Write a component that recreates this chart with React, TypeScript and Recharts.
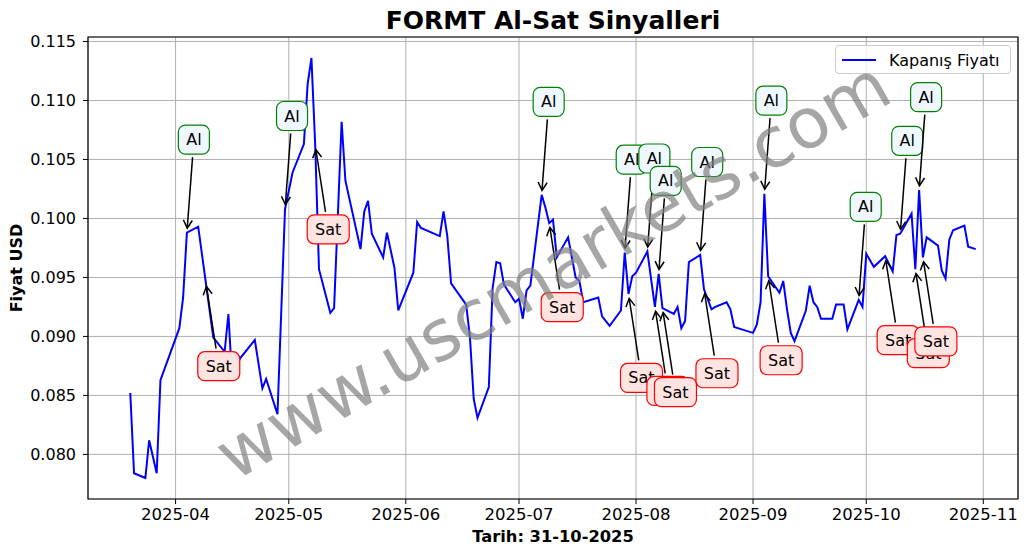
import { ComposedChart, Line, Scatter, XAxis, YAxis, CartesianGrid, ReferenceArea } from 'recharts'

// trading days and closing prices (USD)
const dates = [
  '2025-03-20', '2025-03-21', '2025-03-24', '2025-03-25', '2025-03-27', '2025-03-28',
  '2025-04-02', '2025-04-03', '2025-04-04', '2025-04-07', '2025-04-09', '2025-04-11',
  '2025-04-14', '2025-04-15', '2025-04-16', '2025-04-18', '2025-04-22', '2025-04-24',
  '2025-04-25', '2025-04-28', '2025-04-30',
  '2025-05-02', '2025-05-05', '2025-05-06', '2025-05-07', '2025-05-08', '2025-05-09',
  '2025-05-12', '2025-05-13', '2025-05-15', '2025-05-16', '2025-05-20', '2025-05-21',
  '2025-05-22', '2025-05-23', '2025-05-26', '2025-05-27', '2025-05-29', '2025-05-30',
  '2025-06-03', '2025-06-04', '2025-06-05', '2025-06-10', '2025-06-11', '2025-06-12',
  '2025-06-13', '2025-06-17', '2025-06-18', '2025-06-19', '2025-06-20', '2025-06-23',
  '2025-06-24', '2025-06-25', '2025-06-26', '2025-06-27', '2025-06-30',
  '2025-07-01', '2025-07-02', '2025-07-03', '2025-07-04', '2025-07-07', '2025-07-08',
  '2025-07-09', '2025-07-10', '2025-07-11', '2025-07-14', '2025-07-16', '2025-07-17',
  '2025-07-18', '2025-07-21', '2025-07-22', '2025-07-23', '2025-07-25', '2025-07-28',
  '2025-07-29', '2025-07-30', '2025-07-31',
  '2025-08-01', '2025-08-04', '2025-08-06', '2025-08-07', '2025-08-08', '2025-08-11',
  '2025-08-12', '2025-08-13', '2025-08-14', '2025-08-15', '2025-08-18', '2025-08-19',
  '2025-08-21', '2025-08-22', '2025-08-25', '2025-08-26', '2025-08-27', '2025-08-29',
  '2025-09-01', '2025-09-02', '2025-09-03', '2025-09-04', '2025-09-05', '2025-09-08',
  '2025-09-09', '2025-09-10', '2025-09-11', '2025-09-12', '2025-09-15', '2025-09-16',
  '2025-09-17', '2025-09-18', '2025-09-19', '2025-09-22', '2025-09-23', '2025-09-25',
  '2025-09-26', '2025-09-29', '2025-09-30',
  '2025-10-01', '2025-10-03', '2025-10-06', '2025-10-08', '2025-10-09', '2025-10-10',
  '2025-10-13', '2025-10-14', '2025-10-15', '2025-10-16', '2025-10-17', '2025-10-20',
  '2025-10-21', '2025-10-22', '2025-10-23', '2025-10-24', '2025-10-27', '2025-10-28',
  '2025-10-30',
]

const closes = [
  0.0852, 0.0784, 0.0780, 0.0812, 0.0784, 0.0863,
  0.0907, 0.0933, 0.0988, 0.0993, 0.0946, 0.0899,
  0.0887, 0.0919, 0.0863, 0.0881, 0.0897, 0.0856,
  0.0864, 0.0834, 0.1008,
  0.1039, 0.1063, 0.1114, 0.1136, 0.1062, 0.0957,
  0.0920, 0.0924, 0.1082, 0.1032, 0.0974, 0.1006,
  0.1015, 0.0987, 0.0967, 0.0988, 0.0958, 0.0922,
  0.0954, 0.0997, 0.0992, 0.0985, 0.1006, 0.0985,
  0.0945, 0.0927, 0.0899, 0.0847, 0.0831, 0.0857,
  0.0941, 0.0963, 0.0962, 0.0944, 0.0929,
  0.0932, 0.0915, 0.0939, 0.0943, 0.1020, 0.1009,
  0.0996, 0.0999, 0.0967, 0.0984, 0.0950, 0.0947,
  0.0929, 0.0932, 0.0933, 0.0917, 0.0909, 0.0922,
  0.0971, 0.0936, 0.0951,
  0.0954, 0.0972, 0.0925, 0.0953, 0.0924, 0.0919,
  0.0925, 0.0907, 0.0913, 0.0963, 0.0969, 0.0940,
  0.0923, 0.0925, 0.0929, 0.0923, 0.0908, 0.0906,
  0.0903, 0.0910, 0.0929, 0.1021, 0.0951, 0.0937,
  0.0947, 0.0923, 0.0903, 0.0896, 0.0922, 0.0943,
  0.0929, 0.0925, 0.0915, 0.0915, 0.0927, 0.0927,
  0.0906, 0.0931, 0.0925,
  0.0970, 0.0959, 0.0968, 0.0955, 0.0986, 0.0987,
  0.1004, 0.0957, 0.1024, 0.0967, 0.0984, 0.0977,
  0.0956, 0.0949, 0.0982, 0.0990, 0.0994, 0.0976,
  0.0974,
]

const buyDates = [
  '2025-04-04', '2025-04-30', '2025-07-07', '2025-07-29', '2025-08-04', '2025-08-07',
  '2025-08-18', '2025-09-04', '2025-09-29', '2025-10-10', '2025-10-15',
]
const sellDates = [
  '2025-04-09', '2025-05-08', '2025-07-09', '2025-07-30', '2025-08-06', '2025-08-08',
  '2025-08-19', '2025-09-05', '2025-10-06', '2025-10-14', '2025-10-16',
]

const monthTicks = [
  '2025-04-01', '2025-05-01', '2025-06-01', '2025-07-01',
  '2025-08-01', '2025-09-01', '2025-10-01', '2025-11-01',
]
const priceTicks = [0.08, 0.085, 0.09, 0.095, 0.1, 0.105, 0.11, 0.115]

const toTime = (d: string) => Date.parse(d + 'T00:00:00Z')
const closeAt = (d: string) => closes[dates.indexOf(d)]

const rows = dates.map((d, i) => ({ t: toTime(d), close: closes[i] }))
const buyRows = buyDates.map((d) => ({ t: toTime(d), close: closeAt(d) }))
const sellRows = sellDates.map((d) => ({ t: toTime(d), close: closeAt(d) }))

// matplotlib-style 5% margins
const tMin = rows[0].t
const tMax = rows[rows.length - 1].t
const xPad = (tMax - tMin) * 0.05
const xDomain: [number, number] = [tMin - xPad, tMax + xPad]
const vMin = Math.min(...closes)
const vMax = Math.max(...closes)
const yPad = (vMax - vMin) * 0.05
const yDomain: [number, number] = [vMin - yPad, vMax + yPad]

const FONT = '"DejaVu Sans", Verdana, sans-serif'

function SignalMark({ cx, cy, label }: { cx?: number; cy?: number; label: 'Al' | 'Sat' }) {
  if (cx == null || cy == null) return null
  const buy = label === 'Al'
  const w = buy ? 31 : 42
  const h = 29
  const bx = cx + (buy ? 7 : 13)
  const by = cy + (buy ? -93 : 84)
  const dir = buy ? 1 : -1
  const ty = by + dir * (h / 2 + 3)
  const tx = bx + (cx - bx) * ((ty - by) / (cy - by))
  const len = Math.hypot(cx - tx, cy - ty)
  const ux = (cx - tx) / len
  const uy = (cy - ty) / len
  const px = cx - ux * 4.5
  const py = cy - uy * 4.5
  const hl = 8
  const hw = 4.5
  const p1 = `${px - ux * hl - uy * hw},${py - uy * hl + ux * hw}`
  const p2 = `${px - ux * hl + uy * hw},${py - uy * hl - ux * hw}`
  return (
    <g>
      <line x1={tx} y1={ty} x2={px} y2={py} stroke="#000" strokeWidth={1.5} />
      <polyline points={`${p1} ${px},${py} ${p2}`} fill="none" stroke="#000" strokeWidth={1.5} />
      <rect
        x={bx - w / 2}
        y={by - h / 2}
        width={w}
        height={h}
        rx={7}
        fill={buy ? '#f0f8ff' : '#ffe4e1'}
        stroke={buy ? '#008000' : '#ff0000'}
        strokeWidth={1.2}
      />
      <text x={bx} y={by} textAnchor="middle" dominantBaseline="central" fontSize={16} fill="#000" fontFamily={FONT}>
        {label}
      </text>
    </g>
  )
}

export default function App() {
  return (
    <div style={{ position: 'absolute', left: 0, top: 0, width: 1028, height: 554, background: '#fff', fontFamily: FONT }}>
      <ComposedChart width={1028} height={554} data={rows} margin={{ top: 37, right: 10, bottom: 11, left: 8 }}>
        <CartesianGrid stroke="#b0b0b0" strokeWidth={1} />
        <XAxis
          dataKey="t"
          type="number"
          domain={xDomain}
          ticks={monthTicks.map(toTime)}
          tickFormatter={(v: number) => new Date(v).toISOString().slice(0, 7)}
          height={44}
          tickSize={5}
          tickMargin={4}
          axisLine={false}
          tickLine={{ stroke: '#000' }}
          tick={{ fill: '#000', fontSize: 16.5, fontFamily: FONT }}
          allowDataOverflow
        />
        <YAxis
          type="number"
          domain={yDomain}
          ticks={priceTicks}
          tickFormatter={(v: number) => v.toFixed(3)}
          width={80}
          tickSize={5}
          tickMargin={7}
          axisLine={false}
          tickLine={{ stroke: '#000' }}
          tick={{ fill: '#000', fontSize: 16, fontFamily: FONT }}
          allowDataOverflow
        />
        <ReferenceArea x1={xDomain[0]} x2={xDomain[1]} y1={yDomain[0]} y2={yDomain[1]} fill="none" stroke="#000" strokeWidth={1.2} />
        <Line type="linear" dataKey="close" stroke="#0000ff" strokeWidth={2} dot={false} isAnimationActive={false} />
        <Scatter
          data={buyRows}
          dataKey="close"
          isAnimationActive={false}
          shape={(p: any) => <SignalMark cx={p.cx} cy={p.cy} label="Al" />}
        />
        <Scatter
          data={sellRows}
          dataKey="close"
          isAnimationActive={false}
          shape={(p: any) => <SignalMark cx={p.cx} cy={p.cy} label="Sat" />}
        />
      </ComposedChart>

      <div
        style={{
          position: 'absolute',
          left: 835,
          top: 45,
          width: 174,
          height: 27,
          border: '1px solid #cccccc',
          borderRadius: 4,
          background: 'rgba(255,255,255,0.8)',
        }}
      >
        <svg width={174} height={27} style={{ position: 'absolute', left: 0, top: 0 }}>
          <line x1={6} y1={14} x2={40} y2={14} stroke="#0000ff" strokeWidth={2} />
          <text x={53} y={19.5} fontSize={16} fontFamily={FONT} fill="#000">
            Kapanış Fiyatı
          </text>
        </svg>
      </div>

      <svg width={1028} height={554} style={{ position: 'absolute', left: 0, top: 0, pointerEvents: 'none' }}>
        <text x={553} y={29} textAnchor="middle" fontSize={25} fontWeight="bold" fontFamily={FONT} fill="#000">
          FORMT Al-Sat Sinyalleri
        </text>
        <text x={553} y={542} textAnchor="middle" fontSize={16.3} fontWeight="bold" fontFamily={FONT} fill="#000">
          Tarih: 31-10-2025
        </text>
        <text
          x={22}
          y={268}
          textAnchor="middle"
          fontSize={16}
          fontWeight="bold"
          fontFamily={FONT}
          fill="#000"
          transform="rotate(-90 22 268)"
        >
          Fiyat USD
        </text>
        <text
          x={553}
          y={270}
          textAnchor="middle"
          dominantBaseline="central"
          fontSize={70}
          fontFamily={FONT}
          fill="#808080"
          fillOpacity={0.7}
          transform="rotate(-30 553 270)"
        >
          www.uscmarkets.com
        </text>
      </svg>
    </div>
  )
}
